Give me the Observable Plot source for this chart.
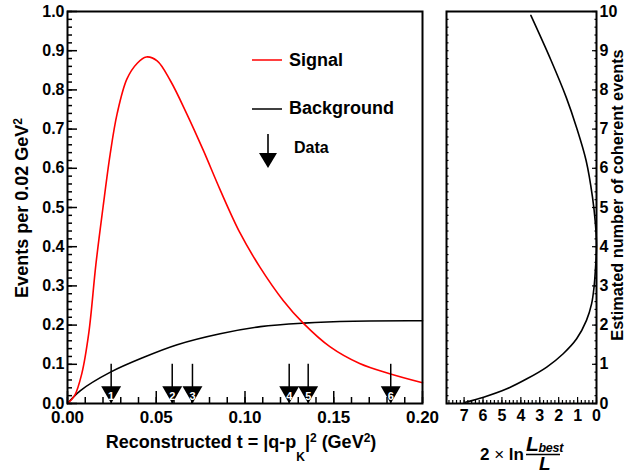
<!DOCTYPE html>
<html><head><meta charset="utf-8">
<script src="https://cdn.jsdelivr.net/npm/d3@7"></script>
<script src="https://cdn.jsdelivr.net/npm/@observablehq/plot@0.6"></script>
<style>
html,body{margin:0;padding:0;background:#fff;}
#wrap{position:relative;width:634px;height:473px;overflow:hidden;}
#left{position:absolute;left:0;top:0;}
#right{position:absolute;left:440px;top:0;}
#over{position:absolute;left:0;top:0;pointer-events:none;}
#over text{font-family:"Liberation Sans",Arial,Helvetica,sans-serif;font-weight:bold;fill:#000;}
</style></head><body>
<div id="wrap">
<div id="left"></div><div id="right"></div>
<svg id="over" width="634" height="473" viewBox="0 0 634 473">
  <!-- legend -->
  <line x1="252" x2="282" y1="60" y2="60" stroke="#ff0000" stroke-width="1.5"/>
  <text x="289" y="66" font-size="18">Signal</text>
  <line x1="252" x2="282" y1="109" y2="109" stroke="#000" stroke-width="1.5"/>
  <text x="289" y="114" font-size="18">Background</text>
  <line x1="268" x2="268" y1="134" y2="155" stroke="#000" stroke-width="1.6"/>
  <polygon points="259,153 277,153 268,168" fill="#000"/>
  <text x="294" y="153" font-size="16">Data</text>
  <!-- axis titles -->
  <text x="241" y="448" font-size="18" text-anchor="middle">Reconstructed t = |q-p<tspan dy="13" font-size="12">K</tspan><tspan dy="-13">|</tspan><tspan dy="-6" font-size="12">2</tspan><tspan dy="6"> (GeV</tspan><tspan dy="-6" font-size="12">2</tspan><tspan dy="6">)</tspan></text>
  <text transform="translate(28,208) rotate(-90)" font-size="18" text-anchor="middle">Events per 0.02 GeV<tspan dy="-6" font-size="12">2</tspan></text>
  <text transform="translate(623,195) rotate(-90)" font-size="16.3" text-anchor="middle">Estimated number of coherent events</text>
  <text x="480" y="460" font-size="17">2 <tspan font-weight="normal">×</tspan> ln</text>
  <line x1="526" x2="560" y1="454.5" y2="454.5" stroke="#000" stroke-width="1.5"/>
  <text x="526" y="451" font-size="21" font-style="italic">L</text>
  <text x="538.5" y="451.5" font-size="12.5" font-style="italic" letter-spacing="-0.3">best</text>
  <text x="539" y="470" font-size="19" font-style="italic">L</text>
</svg>
</div>
<script>
// ---- Left panel data ----
const signalT = [0, 0.004, 0.008, 0.012, 0.016, 0.020, 0.024, 0.028, 0.0335, 0.0393, 0.0444, 0.0505, 0.0579, 0.0672, 0.0766, 0.086, 0.0972, 0.1084, 0.1215, 0.1328, 0.1478, 0.1646, 0.1815, 0.2];
const signalY = [0, 0.02, 0.075, 0.18, 0.355, 0.50, 0.635, 0.74, 0.828, 0.868, 0.884, 0.874, 0.824, 0.739, 0.645, 0.545, 0.435, 0.348, 0.263, 0.205, 0.145, 0.102, 0.076, 0.053];
const bkgT = [0, 0.0073, 0.0242, 0.043, 0.0618, 0.086, 0.1087, 0.133, 0.161, 0.2];
const bkgY = [0, 0.033, 0.08, 0.118, 0.150, 0.178, 0.196, 0.205, 0.210, 0.211];
const dataT = [0.0246, 0.059, 0.0704, 0.1249, 0.1356, 0.1821];
const dataLabels = ["1", "2", "3", "4", "5", "6"];
const xTicksLeft = [0, 0.05, 0.10, 0.15, 0.20];
const yTicksLeft = [0, 0.1, 0.2, 0.3, 0.4, 0.5, 0.6, 0.7, 0.8, 0.9, 1.0];

// ---- Right panel data ----
const nllDelta = [6.93, 5.97, 4.74, 3.68, 2.63, 1.76, 1.05, 0.53, 0.26, 0.13, 0.05, 0.0, 0.06, 0.21, 0.55, 1.06, 1.60, 2.40, 3.47];
const nllN     = [0.03, 0.16, 0.375, 0.63, 0.93, 1.27, 1.65, 2.12, 2.54, 2.97, 3.48, 4.05, 4.6, 5.26, 6.2, 7.05, 7.81, 8.75, 9.9];
const xTicksRight = [0, 1, 2, 3, 4, 5, 6, 7];
const yTicksRight = [0, 1, 2, 3, 4, 5, 6, 7, 8, 9, 10];

const signal = signalT.map((t, i) => ({t, y: signalY[i]}));
const bkg = bkgT.map((t, i) => ({t, y: bkgY[i]}));
const data = dataT.map((t, i) => ({t, n: dataLabels[i]}));
const nll = nllDelta.map((d, i) => ({d, n: nllN[i]}));

const font = {fontFamily: "'Liberation Sans', Arial, Helvetica, sans-serif", fontWeight: "bold", fontSize: "16px", overflow: "visible", color: "black"};

const leftMinorX = d3.range(0, 0.2001, 0.01);
const leftMinorY = d3.range(0, 1.0001, 0.02);

const left = Plot.plot({
  width: 440, height: 473,
  marginLeft: 67, marginRight: 18, marginTop: 11, marginBottom: 70,
  x: {domain: [0, 0.2]},
  y: {domain: [0, 1]},
  style: font,
  marks: [
    Plot.axisX({ticks: xTicksLeft, tickSize: 0, tickPadding: 7, tickFormat: d3.format(".2f"), fontSize: 17, label: null}),
    Plot.axisX({ticks: xTicksLeft, tickSize: 12, dy: -12, fill: "none", label: null, strokeWidth: 1.5}),
    Plot.axisX({ticks: leftMinorX, tickSize: 6, dy: -6, fill: "none", label: null, strokeWidth: 1.5}),
    Plot.axisY({ticks: yTicksLeft, tickSize: 0, tickPadding: 3, tickFormat: d3.format(".1f"), fontSize: 16, label: null}),
    Plot.axisY({ticks: yTicksLeft, tickSize: 10, dx: 10, fill: "none", label: null, strokeWidth: 1.5}),
    Plot.axisY({ticks: leftMinorY, tickSize: 5, dx: 5, fill: "none", label: null, strokeWidth: 1.5}),
    Plot.line(bkg, {x: "t", y: "y", stroke: "black", strokeWidth: 1.6, curve: "catmull-rom"}),
    Plot.line(signal, {x: "t", y: "y", stroke: "#ff0000", strokeWidth: 1.6, curve: "catmull-rom"}),
    Plot.ruleX(data, {x: "t", y1: 0, y2: 0.1, stroke: "black", strokeWidth: 1.5}),
    Plot.dot(data, {x: "t", y: 0, symbol: "triangle2", r: 9.5, rotate: 180, fill: "black", stroke: "none", dy: -11.5}),
    Plot.text(data, {x: "t", y: 0, text: "n", fill: "white", fontSize: 11, fontWeight: "bold", dy: -7.5}),
    Plot.frame({stroke: "black", strokeWidth: 2})
  ]
});
document.getElementById("left").appendChild(left);

const rightMinorX = d3.range(0, 7.9, 0.2);
const rightMinorY = d3.range(0, 10.001, 0.2);

const right = Plot.plot({
  width: 194, height: 473,
  marginLeft: 6, marginRight: 38, marginTop: 11, marginBottom: 70,
  x: {domain: [7.93, 0]},
  y: {domain: [0, 10]},
  style: font,
  marks: [
    Plot.axisX({ticks: xTicksRight, tickSize: 0, tickPadding: 6, tickFormat: d3.format("d"), fontSize: 16, label: null}),
    Plot.axisX({ticks: xTicksRight, tickSize: 6, dy: -6, fill: "none", label: null, strokeWidth: 1.2}),
    Plot.axisX({ticks: rightMinorX, tickSize: 3, dy: -3, fill: "none", label: null, strokeWidth: 1.2}),
    Plot.axisY({anchor: "right", ticks: yTicksRight, tickSize: 0, tickPadding: 3, tickFormat: d3.format("d"), fontSize: 16, label: null}),
    Plot.axisY({anchor: "right", ticks: yTicksRight, tickSize: 5, dx: -5, fill: "none", label: null, strokeWidth: 1.2}),
    Plot.axisY({anchor: "right", ticks: rightMinorY, tickSize: 2.5, dx: -2.5, fill: "none", label: null, strokeWidth: 1.2}),
    Plot.axisY({anchor: "left", ticks: rightMinorY, tickSize: 2.5, dx: 2.5, fill: "none", label: null, strokeWidth: 1.2}),
    Plot.line(nll, {x: "d", y: "n", stroke: "black", strokeWidth: 1.6, curve: "catmull-rom"}),
    Plot.frame({stroke: "black", strokeWidth: 2})
  ]
});
document.getElementById("right").appendChild(right);
</script>
</body></html>
